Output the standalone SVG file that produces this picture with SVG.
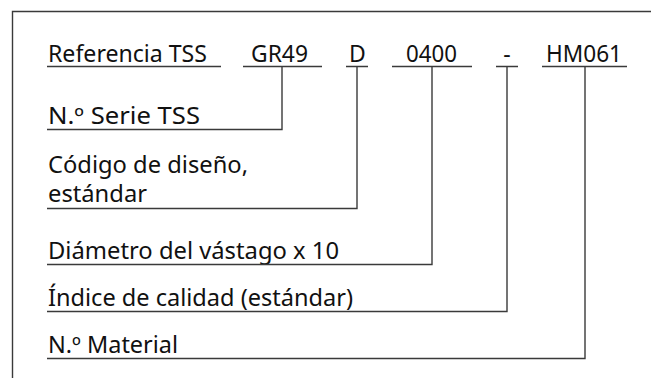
<svg xmlns="http://www.w3.org/2000/svg" width="651" height="378" viewBox="0 0 651 378">
<style>
text{font-family:"Noto Sans","Open Sans","DejaVu Sans",sans-serif;font-size:23px;fill:#111}
.ln{fill:none;stroke:#3a3a3a;stroke-width:1.4}
</style>
<rect width="651" height="378" fill="#fff"/>
<g id="frame"><path class="ln" d="M12.5,378V11.5H651"/></g>
<g id="n-ref"><text x="48" y="62" textLength="159" lengthAdjust="spacingAndGlyphs">Referencia TSS</text></g>
<g id="n-gr49"><text x="251" y="62" textLength="57" lengthAdjust="spacingAndGlyphs">GR49</text></g>
<g id="n-d"><text x="349" y="62">D</text></g>
<g id="n-0400"><text x="406" y="62" textLength="51" lengthAdjust="spacingAndGlyphs">0400</text></g>
<g id="n-dash"><text x="507" y="62" text-anchor="middle">-</text></g>
<g id="n-hm061"><text x="546" y="62" textLength="76" lengthAdjust="spacingAndGlyphs">HM061</text></g>
<g id="n-serie"><text x="48" y="124" textLength="152" lengthAdjust="spacingAndGlyphs">N.º Serie TSS</text></g>
<g id="n-codigo"><text x="48" y="173" textLength="200" lengthAdjust="spacingAndGlyphs">Código de diseño,</text><text x="48" y="202" textLength="99" lengthAdjust="spacingAndGlyphs">estándar</text></g>
<g id="n-diam"><text x="48" y="259" textLength="291" lengthAdjust="spacingAndGlyphs">Diámetro del vástago x 10</text></g>
<g id="n-indice"><text x="48" y="306" textLength="305" lengthAdjust="spacingAndGlyphs">Índice de calidad (estándar)</text></g>
<g id="n-material"><text x="48" y="353" textLength="130" lengthAdjust="spacingAndGlyphs">N.º Material</text></g>
<g id="connectors">
<path class="ln" d="M47,66.5H221"/>
<path class="ln" d="M243,66.5H322M282,66.5V129.5H47"/>
<path class="ln" d="M346,66.5H368M357,66.5V208.5H47"/>
<path class="ln" d="M392,66.5H472M432,66.5V264.5H47"/>
<path class="ln" d="M496,66.5H518M507,66.5V311.5H47"/>
<path class="ln" d="M542,66.5H627M585,66.5V358.5H47"/>
</g>
</svg>
